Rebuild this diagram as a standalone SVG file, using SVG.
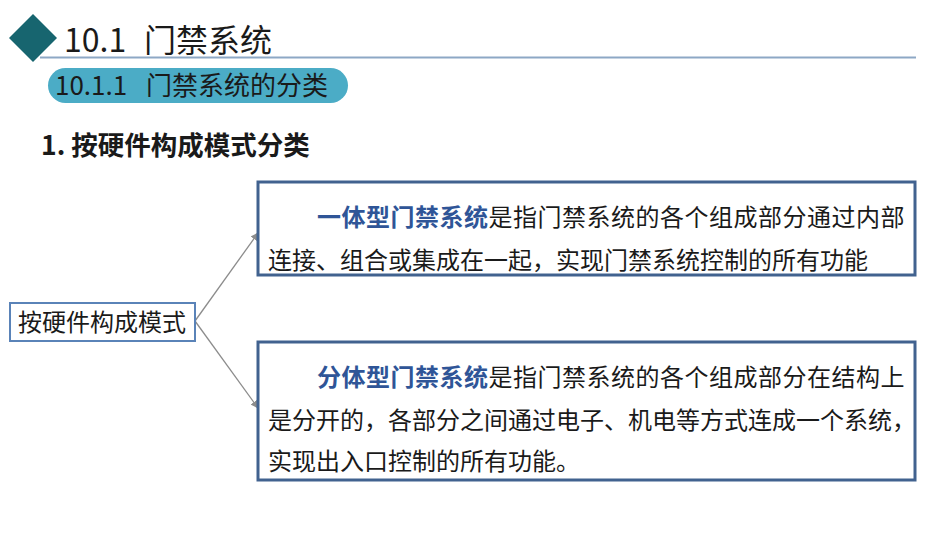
<svg xmlns="http://www.w3.org/2000/svg" width="950" height="535" viewBox="0 0 950 535">
<defs>
<style>
text{font-family:"Noto Sans CJK SC","Microsoft YaHei",sans-serif;fill:#1a1a1a}
.body{font-size:24px}
.em{font-weight:bold;fill:#2F5597}
.big{stroke:#41628F;stroke-width:3;fill:#fff}
.conn{stroke:#8c8c8c;stroke-width:1.3;fill:none}
</style>
<marker id="arr" viewBox="0 0 10 10" refX="9" refY="5" markerWidth="8" markerHeight="8" markerUnits="userSpaceOnUse" orient="auto">
<path d="M0,0 L10,5 L0,10 z" fill="#8c8c8c"/>
</marker>
</defs>
<rect width="950" height="535" fill="#fff"/>
<g id="header">
<polygon points="33,14 57,38 33,62 9,38" fill="#17656F"/>
<line x1="40" y1="57.5" x2="916" y2="57.5" stroke="#8DA8C5" stroke-width="2"/>
<text x="64" y="52" font-size="32">10.1<tspan x="144">门禁系统</tspan></text>
<rect x="48" y="68" width="300" height="35" rx="17.5" fill="#4BACC6"/>
<text x="55" y="95" font-size="26">10.1.1<tspan x="146">门禁系统的分类</tspan></text>
<text x="41" y="155" font-size="26.5" font-weight="bold">1. 按硬件构成模式分类</text>
</g>
<g id="connectors">
<line class="conn" x1="195" y1="321" x2="258" y2="233" marker-end="url(#arr)"/>
<line class="conn" x1="195" y1="321" x2="258" y2="408" marker-end="url(#arr)"/>
</g>
<g id="root">
<rect x="10" y="303" width="185" height="38" fill="#fff" stroke="#5A83B8" stroke-width="2"/>
<text class="body" x="18" y="331">按硬件构成模式</text>
</g>
<g id="integrated">
<rect class="big" x="258" y="182" width="657" height="93"/>
<text class="body" x="317" y="226" letter-spacing="0.5"><tspan class="em">一体型门禁系统</tspan>是指门禁系统的各个组成部分通过内部</text>
<text class="body" x="268" y="269">连接、组合或集成在一起，实现门禁系统控制的所有功能</text>
</g>
<g id="split">
<rect class="big" x="258" y="342" width="657" height="138"/>
<text class="body" x="317" y="386" letter-spacing="0.5"><tspan class="em">分体型门禁系统</tspan>是指门禁系统的各个组成部分在结构上</text>
<text class="body" x="268" y="429">是分开的，各部分之间通过电子、机电等方式连成一个系统，</text>
<text class="body" x="268" y="470">实现出入口控制的所有功能。</text>
</g>
</svg>
